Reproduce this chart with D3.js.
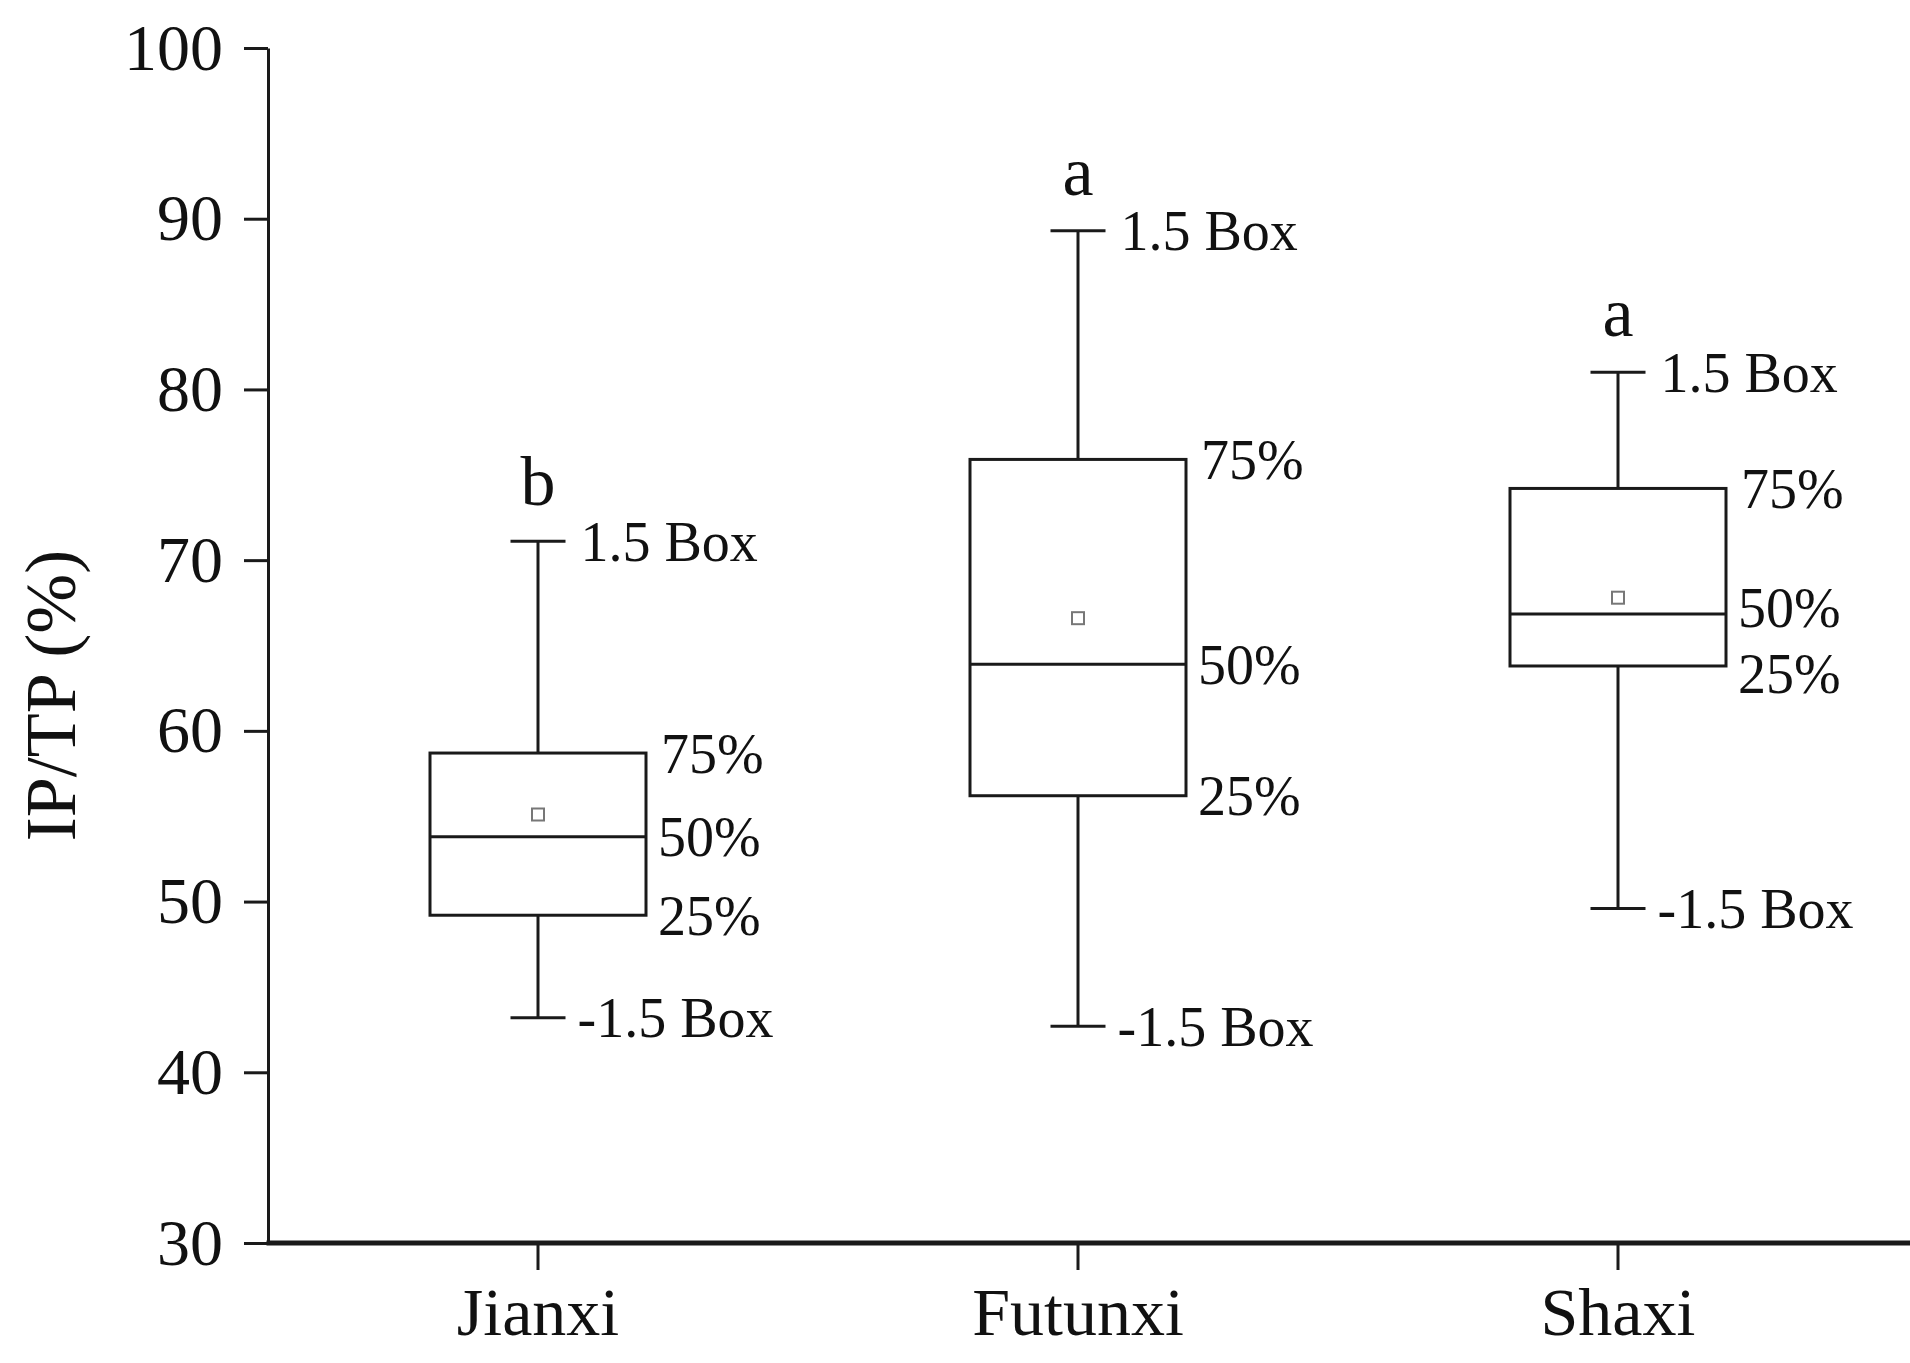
<!DOCTYPE html>
<html>
<head>
<meta charset="utf-8">
<script src="https://cdn.jsdelivr.net/npm/d3@7"></script>
<style>
  html, body { margin: 0; padding: 0; background: #fff; }
  svg { display: block; font-family: "Liberation Serif", "Times New Roman", serif; }
</style>
</head>
<body>
<div id="chart"></div>
<script>
// Box plot values (IP/TP, %)
const sites = ['Jianxi', 'Futunxi', 'Shaxi'];
const whiskerLow = [43.2, 42.7, 49.6];
const q1 = [49.2, 56.2, 63.8];
const median = [53.8, 63.9, 66.85];
const q3 = [58.7, 75.9, 74.2];
const whiskerHigh = [71.1, 89.3, 81.0];
const means = [55.1, 66.6, 67.8];
const groupLetters = ['b', 'a', 'a'];
const yTicks = [30, 40, 50, 60, 70, 80, 90, 100];

const width = 1910;
const height = 1363;
const lineColor = '#1a1a1a';

const svg = d3.select('#chart')
  .append('svg')
  .attr('width', width)
  .attr('height', height);

const y = d3.scaleLinear().domain([30, 100]).range([1243, 48]);
const x = d3.scaleBand().domain(sites).range([268, 1888]);

const boxW = x.bandwidth() * 0.4;
const capW = 55;
const cx = d => x(d) + x.bandwidth() / 2;

// y axis
const yAxis = svg.append('g')
  .attr('transform', `translate(${x.range()[0]},0)`)
  .call(d3.axisLeft(y).tickValues(yTicks).tickSize(24).tickSizeOuter(0).tickPadding(21));
yAxis.select('.domain').attr('stroke', lineColor).attr('stroke-width', 3);
yAxis.selectAll('.tick line').attr('stroke', lineColor).attr('stroke-width', 3);
yAxis.selectAll('.tick text')
  .attr('font-family', '"Liberation Serif", serif')
  .attr('font-size', 66)
  .attr('fill', '#111');

// x axis
const xAxis = svg.append('g')
  .attr('transform', `translate(0,${y(30)})`)
  .call(d3.axisBottom(x).tickSize(27).tickSizeOuter(0).tickPadding(17));
xAxis.select('.domain').remove();
xAxis.append('line')
  .attr('x1', x.range()[0] - 1.5)
  .attr('x2', width)
  .attr('stroke', lineColor)
  .attr('stroke-width', 5);
xAxis.selectAll('.tick line').attr('stroke', lineColor).attr('stroke-width', 3);
xAxis.selectAll('.tick text')
  .attr('font-family', '"Liberation Serif", serif')
  .attr('font-size', 68)
  .attr('fill', '#111');

// y title
svg.append('text')
  .attr('transform', `translate(75,${(y(30) + y(100)) / 2 + 50}) rotate(-90)`)
  .attr('text-anchor', 'middle')
  .attr('font-size', 72)
  .attr('fill', '#111')
  .text('IP/TP (%)');

// boxes
const groups = svg.append('g').selectAll('g')
  .data(sites)
  .join('g');

groups.each(function (site, i) {
  const g = d3.select(this);
  const c = cx(site);

  // whiskers
  g.append('line')
    .attr('x1', c).attr('x2', c)
    .attr('y1', y(whiskerHigh[i])).attr('y2', y(q3[i]))
    .attr('stroke', lineColor).attr('stroke-width', 3);
  g.append('line')
    .attr('x1', c).attr('x2', c)
    .attr('y1', y(q1[i])).attr('y2', y(whiskerLow[i]))
    .attr('stroke', lineColor).attr('stroke-width', 3);
  [whiskerHigh[i], whiskerLow[i]].forEach(v => {
    g.append('line')
      .attr('x1', c - capW / 2).attr('x2', c + capW / 2)
      .attr('y1', y(v)).attr('y2', y(v))
      .attr('stroke', lineColor).attr('stroke-width', 3);
  });

  // box
  g.append('rect')
    .attr('x', c - boxW / 2)
    .attr('y', y(q3[i]))
    .attr('width', boxW)
    .attr('height', y(q1[i]) - y(q3[i]))
    .attr('fill', '#fff')
    .attr('stroke', lineColor)
    .attr('stroke-width', 3);
  g.append('line')
    .attr('x1', c - boxW / 2).attr('x2', c + boxW / 2)
    .attr('y1', y(median[i])).attr('y2', y(median[i]))
    .attr('stroke', lineColor).attr('stroke-width', 3);

  // mean marker
  g.append('rect')
    .attr('x', c - 6).attr('y', y(means[i]) - 6)
    .attr('width', 12).attr('height', 12)
    .attr('fill', '#fff')
    .attr('stroke', '#777')
    .attr('stroke-width', 2);

  // annotations, the 50%/25% pair nudged apart when they crowd
  const ann = (txt, xx, yy) => g.append('text')
    .attr('x', xx)
    .attr('y', yy)
    .attr('dy', '0.35em')
    .attr('font-size', 56)
    .attr('fill', '#111')
    .text(txt);
  const gap = y(q1[i]) - y(median[i]);
  const push = gap < 66 ? (66 - gap) / 2 : 0;
  ann('1.5 Box', c + capW / 2 + 15, y(whiskerHigh[i]));
  ann('-1.5 Box', c + capW / 2 + 12, y(whiskerLow[i]));
  ann('75%', c + boxW / 2 + 15, y(q3[i]));
  ann('50%', c + boxW / 2 + 12, y(median[i]) - push);
  ann('25%', c + boxW / 2 + 12, y(q1[i]) + push);

  // significance letter
  g.append('text')
    .attr('x', c)
    .attr('y', y(whiskerHigh[i]) - 36)
    .attr('text-anchor', 'middle')
    .attr('font-size', 70)
    .attr('fill', '#111')
    .text(groupLetters[i]);
});
</script>
</body>
</html>
